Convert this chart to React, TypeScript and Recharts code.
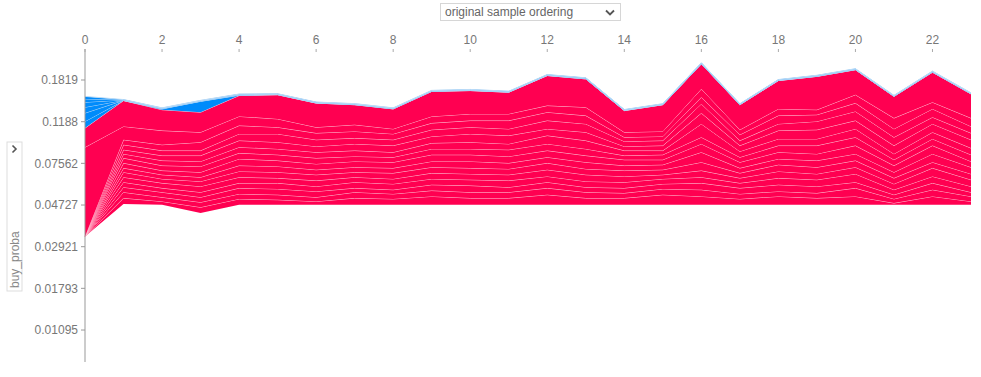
import { Area, ComposedChart, XAxis, YAxis } from "recharts"

// sample index along the x axis
const samples = [0, 1, 2, 3, 4, 5, 6, 7, 8, 9, 10, 11, 12, 13, 14, 15, 16, 17, 18, 19, 20, 21, 22, 23]

// log-odds where the red stack starts (base value + negative effects)
const lowerBound = [-3.38, -2.99, -3.0, -3.1, -3.0, -3.0, -3.0, -3.0, -3.0, -3.0, -3.0, -3.0, -3.0, -3.0, -3.0, -3.0, -3.0, -3.0, -3.0, -3.0, -3.0, -3.0, -3.0, -3.0]

// positive contributions (log-odds), listed from the top of the stack downwards
const featA = [0.23, 0.31, 0.25, 0.24, 0.25, 0.29, 0.29, 0.24, 0.24, 0.3, 0.28, 0.26, 0.36, 0.34, 0.26, 0.32, 0.3, 0.3, 0.34, 0.4, 0.3, 0.26, 0.36, 0.29]
const featB = [1.07, 0.16, 0.17, 0.12, 0.11, 0.1, 0.07, 0.08, 0.06, 0.08, 0.08, 0.08, 0.08, 0.1, 0.06, 0.06, 0.1, 0.06, 0.08, 0.06, 0.1, 0.13, 0.08, 0.1]
const featC1 = [0, 0.06, 0.07, 0.1, 0.1, 0.08, 0.08, 0.08, 0.07, 0.08, 0.08, 0.1, 0.1, 0.1, 0.05, 0.05, 0.08, 0.07, 0.1, 0.08, 0.1, 0.1, 0.1, 0.08]
const featC2 = [0, 0.06, 0.06, 0.06, 0.08, 0.1, 0.08, 0.07, 0.07, 0.08, 0.08, 0.08, 0.1, 0.1, 0.06, 0.06, 0.11, 0.06, 0.08, 0.1, 0.11, 0.1, 0.08, 0.08]
const featC3 = [0, 0.05, 0.06, 0.07, 0.08, 0.08, 0.07, 0.08, 0.08, 0.08, 0.1, 0.1, 0.08, 0.1, 0.05, 0.06, 0.13, 0.07, 0.1, 0.11, 0.1, 0.1, 0.1, 0.1]
const featC4 = [0, 0.05, 0.06, 0.06, 0.07, 0.07, 0.07, 0.07, 0.06, 0.07, 0.08, 0.07, 0.1, 0.1, 0.06, 0.05, 0.16, 0.07, 0.08, 0.08, 0.1, 0.07, 0.08, 0.08]
const featC5 = [0, 0.06, 0.06, 0.07, 0.07, 0.07, 0.07, 0.06, 0.06, 0.07, 0.07, 0.08, 0.08, 0.08, 0.05, 0.06, 0.08, 0.06, 0.08, 0.1, 0.1, 0.07, 0.08, 0.08]
const featC6 = [0, 0.06, 0.05, 0.06, 0.08, 0.07, 0.07, 0.07, 0.07, 0.08, 0.08, 0.08, 0.08, 0.08, 0.07, 0.06, 0.1, 0.07, 0.08, 0.08, 0.1, 0.08, 0.1, 0.07]
const featC7 = [0, 0.05, 0.05, 0.05, 0.07, 0.07, 0.06, 0.06, 0.06, 0.07, 0.08, 0.07, 0.07, 0.08, 0.06, 0.06, 0.12, 0.06, 0.07, 0.08, 0.08, 0.07, 0.1, 0.08]
const featC8 = [0, 0.06, 0.05, 0.06, 0.07, 0.07, 0.07, 0.06, 0.07, 0.07, 0.07, 0.07, 0.08, 0.07, 0.07, 0.06, 0.1, 0.06, 0.08, 0.08, 0.08, 0.07, 0.07, 0.07]
const featC9 = [0, 0.06, 0.06, 0.07, 0.07, 0.06, 0.07, 0.06, 0.06, 0.07, 0.07, 0.07, 0.08, 0.08, 0.07, 0.05, 0.08, 0.06, 0.08, 0.07, 0.08, 0.07, 0.1, 0.08]
const featC10 = [0, 0.06, 0.05, 0.06, 0.06, 0.07, 0.06, 0.07, 0.07, 0.07, 0.07, 0.08, 0.07, 0.07, 0.07, 0.06, 0.07, 0.06, 0.08, 0.08, 0.1, 0.06, 0.08, 0.07]
const featC11 = [0, 0.06, 0.06, 0.06, 0.07, 0.07, 0.07, 0.05, 0.05, 0.07, 0.08, 0.06, 0.07, 0.06, 0.06, 0.06, 0.08, 0.07, 0.08, 0.08, 0.07, 0.05, 0.08, 0.05]
const featC12 = [0, 0.07, 0.05, 0.06, 0.06, 0.06, 0.05, 0.07, 0.06, 0.07, 0.07, 0.07, 0.08, 0.07, 0.06, 0.07, 0.08, 0.06, 0.06, 0.06, 0.1, 0.05, 0.08, 0.06]
const featC13 = [0, 0.07, 0.04, 0.07, 0.07, 0.06, 0.04, 0.08, 0.07, 0.1, 0.08, 0.08, 0.12, 0.08, 0.08, 0.12, 0.1, 0.07, 0.1, 0.08, 0.1, 0.02, 0.1, 0.04]

// negative contributions (magnitudes), stacked above the output value
const negD1 = [0.08, 0, 0.01, 0.13, 0.004, 0, 0, 0, 0, 0, 0, 0, 0, 0, 0, 0, 0, 0, 0, 0, 0, 0, 0, 0]
const negD2 = [0.1, 0.003, 0.003, 0.003, 0.004, 0.003, 0.003, 0.003, 0.003, 0.003, 0.003, 0.003, 0.003, 0.003, 0.003, 0.003, 0.003, 0.003, 0.003, 0.003, 0.003, 0.003, 0.003, 0.003]
const negD3 = [0.07, 0.002, 0.003, 0.002, 0.003, 0.003, 0.002, 0.003, 0.003, 0.002, 0.003, 0.003, 0.002, 0.003, 0.003, 0.002, 0.003, 0.003, 0.002, 0.003, 0.003, 0.002, 0.003, 0.003]
const negD4 = [0.06, 0.003, 0.002, 0.003, 0.003, 0.002, 0.003, 0.003, 0.002, 0.003, 0.003, 0.002, 0.003, 0.003, 0.002, 0.003, 0.003, 0.002, 0.003, 0.003, 0.002, 0.003, 0.003, 0.002]
const negD5 = [0.04, 0.002, 0.002, 0.002, 0.002, 0.002, 0.002, 0.002, 0.002, 0.002, 0.002, 0.002, 0.002, 0.002, 0.002, 0.002, 0.002, 0.002, 0.002, 0.002, 0.002, 0.002, 0.002, 0.002]
const negD6 = [0.03, 0.002, 0.002, 0.002, 0.002, 0.002, 0.002, 0.002, 0.002, 0.002, 0.002, 0.002, 0.002, 0.002, 0.002, 0.002, 0.002, 0.002, 0.002, 0.002, 0.002, 0.002, 0.002, 0.002]

const xTicks = [0, 2, 4, 6, 8, 10, 12, 14, 16, 18, 20, 22]
const probTicks = [0.1819, 0.1188, 0.07562, 0.04727, 0.02921, 0.01793, 0.01095]

const logit = (p: number) => Math.log(p / (1 - p))
const sigmoid = (v: number) => 1 / (1 + Math.exp(-v))

// bottom of the stack first
const redSeries: [string, number[]][] = [
  ["c13", featC13], ["c12", featC12], ["c11", featC11], ["c10", featC10],
  ["c9", featC9], ["c8", featC8], ["c7", featC7], ["c6", featC6],
  ["c5", featC5], ["c4", featC4], ["c3", featC3], ["c2", featC2],
  ["c1", featC1], ["b", featB], ["a", featA],
]
const blueSeries: [string, number[]][] = [
  ["d1", negD1], ["d2", negD2], ["d3", negD3], ["d4", negD4], ["d5", negD5], ["d6", negD6],
]

const data = samples.map((s, i) => {
  const row: Record<string, number> = { x: s, base: lowerBound[i] }
  for (const [k, arr] of [...redSeries, ...blueSeries]) row[k] = arr[i]
  return row
})

const FONT = "'Liberation Sans', Arial, Helvetica, sans-serif"

function TopTick({ x, y, payload }: any) {
  return (
    <g>
      <line x1={x} x2={x} y1={y + 5.5} y2={y + 8.5} stroke="#aaa" />
      <text x={x} y={y} textAnchor="middle" fill="#777" fontSize={12} fontFamily={FONT}>
        {payload.value}
      </text>
    </g>
  )
}

export default function App() {
  return (
    <div style={{ position: "absolute", left: 0, top: 0, width: 981, height: 377, fontFamily: FONT }}>
      <div
        style={{
          position: "absolute",
          left: 440,
          top: 3,
          width: 175,
          height: 16,
          border: "1px solid #d6d6d6",
          fontSize: 12,
          color: "#666",
          lineHeight: "16px",
          paddingLeft: 4,
          boxSizing: "content-box",
        }}
      >
        original sample ordering
        <svg width={10} height={8} style={{ position: "absolute", right: 5, top: 5 }}>
          <polyline points="1,1.5 5,5.5 9,1.5" fill="none" stroke="#555" strokeWidth={1.8} />
        </svg>
      </div>

      <svg width={24} height={160} style={{ position: "absolute", left: 0, top: 138 }}>
        <rect x={7} y={4} width={15} height={149} fill="none" stroke="#ddd" />
        <polyline points="12.5,7.5 16,11 12.5,14.5" fill="none" stroke="#555" strokeWidth={1.6} />
        <text
          transform="translate(19,150) rotate(-90)"
          fontSize={12}
          fill="#888"
          fontFamily={FONT}
        >
          buy_proba
        </text>
      </svg>

      <ComposedChart
        width={981}
        height={377}
        data={data}
        margin={{ top: 19, right: 10, bottom: 15, left: 25 }}
      >
        <XAxis
          dataKey="x"
          type="number"
          orientation="top"
          domain={[0, 23]}
          ticks={xTicks}
          interval={0}
          height={30}
          axisLine={false}
          tickLine={false}
          tickSize={0}
          tickMargin={5.5}
          tick={<TopTick />}
        />
        <YAxis
          type="number"
          domain={[-4.887, -1.1315]}
          allowDataOverflow
          ticks={probTicks.map(logit)}
          tickFormatter={(v: number) => sigmoid(v).toPrecision(4)}
          width={60}
          stroke="#999"
          tickSize={4}
          tickMargin={3}
          tick={{ fill: "#777", fontSize: 12, fontFamily: FONT }}
        />
        <Area
          dataKey="base"
          stackId="s"
          type="linear"
          stroke="none"
          fill="none"
          fillOpacity={0}
          dot={false}
          activeDot={false}
          isAnimationActive={false}
        />
        {redSeries.map(([k]) => (
          <Area
            key={k}
            dataKey={k}
            stackId="s"
            type="linear"
            fill="#ff0051"
            fillOpacity={1}
            stroke="#ffc3d5"
            strokeWidth={1}
            dot={false}
            activeDot={false}
            isAnimationActive={false}
          />
        ))}
        {blueSeries.map(([k]) => (
          <Area
            key={k}
            dataKey={k}
            stackId="s"
            type="linear"
            fill="#008bfb"
            fillOpacity={1}
            stroke="#bcdcf7"
            strokeWidth={1}
            dot={false}
            activeDot={false}
            isAnimationActive={false}
          />
        ))}
      </ComposedChart>
    </div>
  )
}
